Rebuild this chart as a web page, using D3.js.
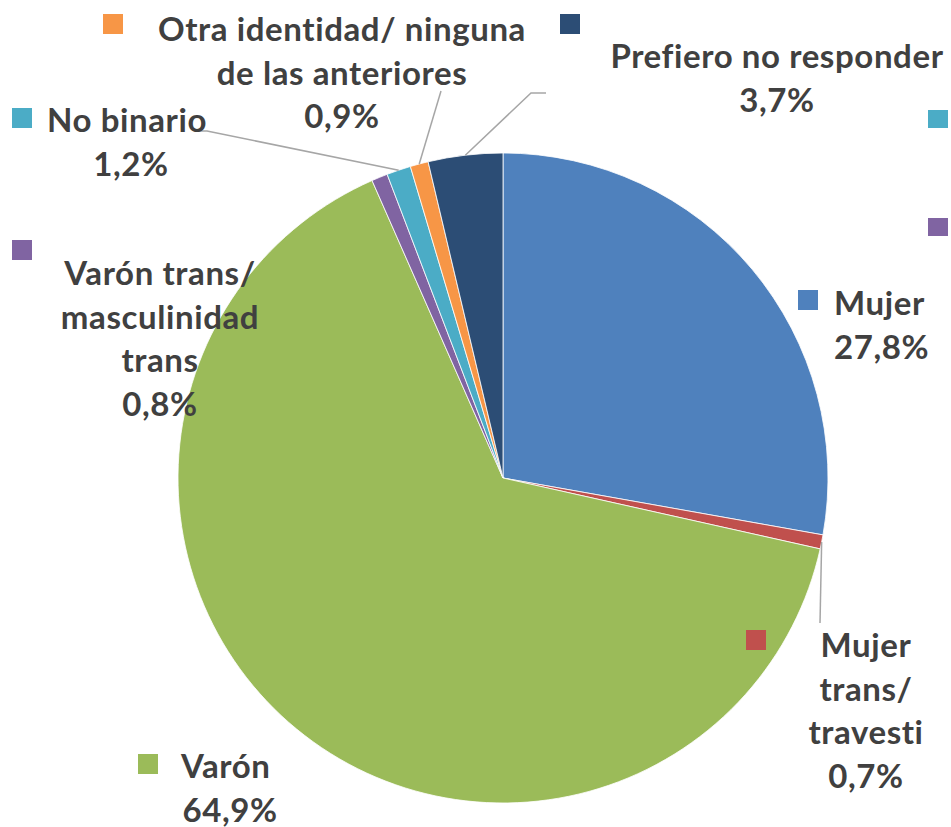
<!DOCTYPE html>
<html>
<head>
<meta charset="utf-8">
<script src="https://cdn.jsdelivr.net/npm/d3@7"></script>
<style>
  body { margin: 0; background: #fff; }
  svg text { font-family: Lato, "Open Sans", sans-serif; font-weight: bold; fill: #404040; letter-spacing: 0.6px; }
</style>
</head>
<body>
<script>
// datos del gráfico
const categories = ["Mujer", "Mujer trans/ travesti", "Varón", "Varón trans/ masculinidad trans",
                    "No binario", "Otra identidad/ ninguna de las anteriores", "Prefiero no responder"];
const values = [27.8, 0.7, 64.9, 0.8, 1.2, 0.9, 3.7];
const valueLabels = ["27,8%", "0,7%", "64,9%", "0,8%", "1,2%", "0,9%", "3,7%"];
const colors = ["#4F81BD", "#C0504D", "#9BBB59", "#8064A2", "#4BACC6", "#F79646", "#2C4D75"];

// lienzo
const w = 951, h = 827;
const cx = 503, cy = 478, r = 325;

const svg = d3.select("body").append("svg").attr("width", w).attr("height", h);

const pie = d3.pie().sort(null).value(d => d)(values);
const arc = d3.arc().innerRadius(0).outerRadius(r);

svg.append("g")
  .attr("transform", "translate(" + cx + "," + cy + ")")
  .selectAll("path")
  .data(pie)
  .enter()
  .append("path")
  .attr("d", arc)
  .attr("fill", (d, i) => colors[i])
  .attr("stroke", "#fff")
  .attr("stroke-width", 0.8);

// posiciones de etiquetas (layout)
const labelLayout = [
  { sq: [798, 290], lines: ["Mujer", valueLabels[0]], x: 834, y: 315, anchor: "start" },
  { sq: [746, 630], lines: ["Mujer", "trans/", "travesti", valueLabels[1]], x: 866, y: 657, anchor: "middle", lead: [[820, 623]] },
  { sq: [138, 754], lines: ["Varón", valueLabels[2]], x: 181, y: 778, anchor: "start", second: 230 },
  { sq: [12, 240], lines: ["Varón trans/", "masculinidad", "trans", valueLabels[3]], x: 160, y: 285, anchor: "middle" },
  { sq: [12, 108], lines: ["No binario", valueLabels[4]], x: 47, y: 132, anchor: "start", second: 131, lead: [[196, 131], [207, 131]] },
  { sq: [103, 14], lines: ["Otra identidad/ ninguna", "de las anteriores", valueLabels[5]], x: 342, y: 41, anchor: "middle", lead: [[441, 91]] },
  { sq: [560, 14], lines: ["Prefiero no responder", valueLabels[6]], x: 777, y: 68, anchor: "middle", lead: [[546, 93], [531, 93]] }
];
// cuadrados sueltos en el borde derecho
const extraSquares = [[928, 110, 4], [928, 218, 3]];

const lineH = 43.5;

// líneas guía
pie.forEach((d, i) => {
  const L = labelLayout[i];
  if (!L.lead) return;
  const a = (d.startAngle + d.endAngle) / 2;
  const end = [cx + r * Math.sin(a), cy - r * Math.cos(a)];
  svg.append("path")
    .attr("d", d3.line()(L.lead.concat([end])))
    .attr("fill", "none")
    .attr("stroke", "#A6A6A6")
    .attr("stroke-width", 1.5);
});

labelLayout.forEach((L, i) => {
  svg.append("rect")
    .attr("x", L.sq[0]).attr("y", L.sq[1])
    .attr("width", 20).attr("height", 20)
    .attr("fill", colors[i]);
  L.lines.forEach((t, j) => {
    const isLast = j === L.lines.length - 1;
    let x = L.x, anchor = L.anchor;
    if (L.second !== undefined && isLast) { x = L.second; anchor = "middle"; }
    svg.append("text")
      .attr("x", x)
      .attr("y", L.y + j * lineH)
      .attr("text-anchor", anchor)
      .attr("font-size", 33)
      .text(t);
  });
});

extraSquares.forEach(s => {
  svg.append("rect")
    .attr("x", s[0]).attr("y", s[1])
    .attr("width", 20).attr("height", 18)
    .attr("fill", colors[s[2]]);
});
</script>
</body>
</html>
